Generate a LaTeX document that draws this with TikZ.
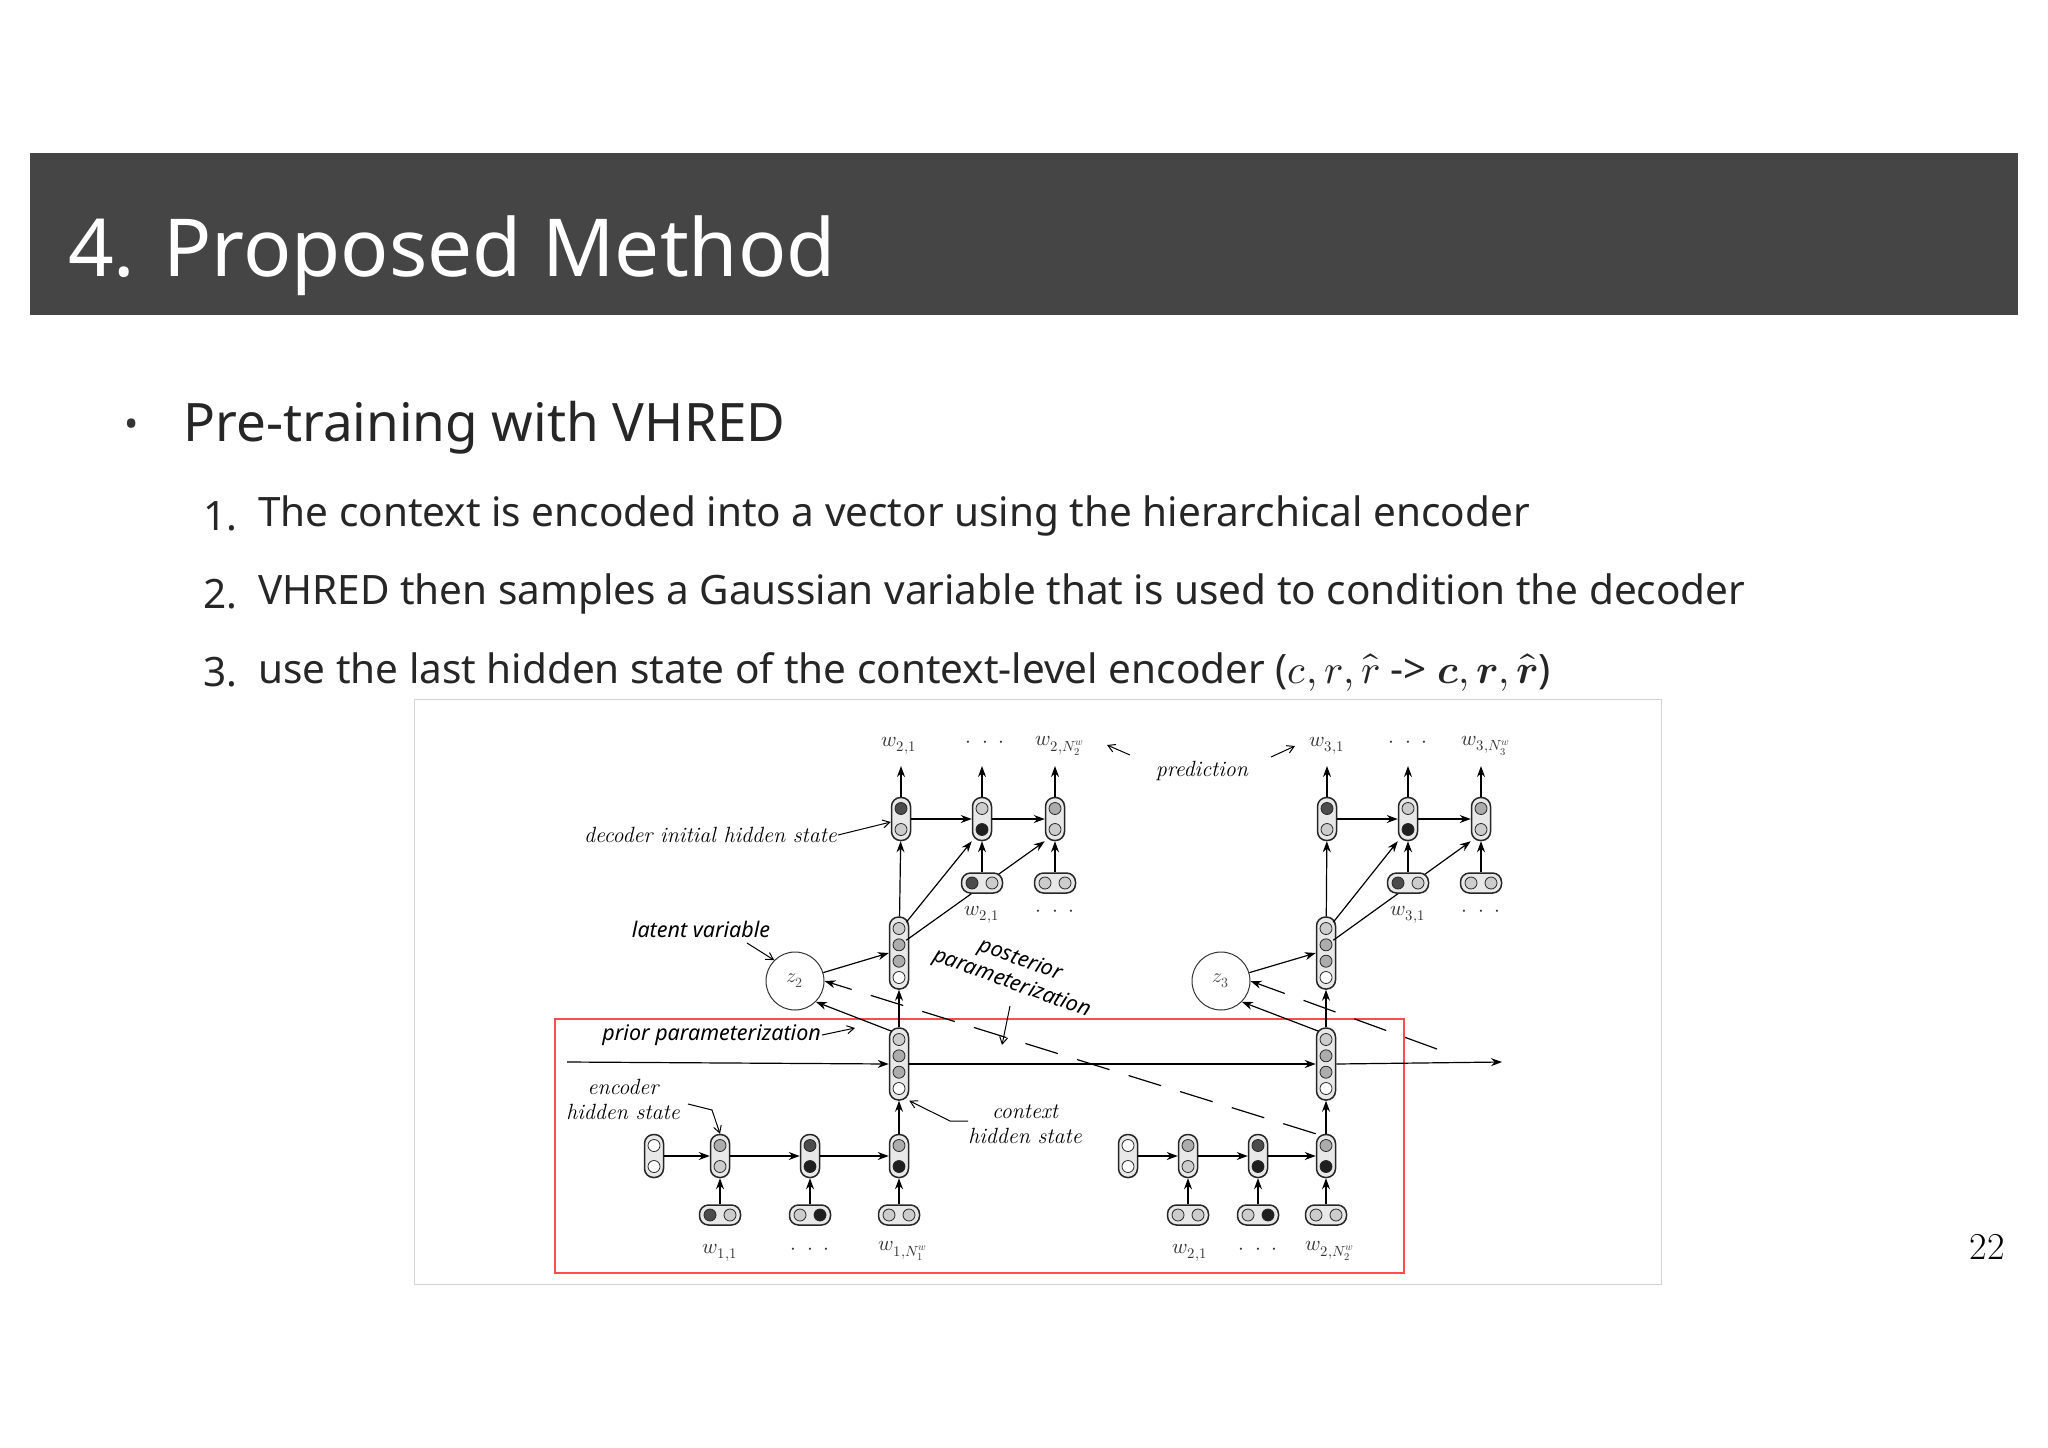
\documentclass[tikz,border=0pt]{standalone}
\usepackage{fontspec}
\usepackage{unicode-math}
\setmathfont{Latin Modern Math}
\newfontfamily\slidefont{Noto Sans}
\usetikzlibrary{arrows.meta,calc}
\tikzset{
 cellbox/.style={draw=black!85,line width=1.5pt,fill=gray!18,rounded corners=9pt,inner sep=0pt},
 vc2/.style={cellbox,minimum width=19pt,minimum height=43pt},
 hc2/.style={cellbox,minimum width=41pt,minimum height=20pt},
 vc4/.style={cellbox,minimum width=19pt,minimum height=72pt},
 dot/.style={draw=black!85,line width=0.8pt},
 arr/.style={line width=1.2pt,-{Stealth[length=11pt,width=8pt]}},
 thin/.style={line width=1pt,-{Straight Barb[length=7pt,width=8pt]}},
 lab/.style={font=\fontsize{22}{25}\selectfont\itshape,inner sep=1pt},
 slab/.style={font=\fontsize{21.5}{25}\selectfont\slidefont\itshape,inner sep=1pt},
 wl/.style={font=\fontsize{21}{23}\selectfont,text=black!80,inner sep=1pt},
}
\colorlet{cw}{white}\colorlet{cl}{gray!40}\colorlet{cmid}{gray!65}\colorlet{cd}{black!70}\colorlet{ck}{black!88}
\newcommand\vtwo[4]{\node[vc2] (#1) at (#2) {};
 \fill[fill=#3,dot] ($(#1.center)+(0,-10.5)$) circle (6pt);
 \fill[fill=#4,dot] ($(#1.center)+(0,10.5)$) circle (6pt);}
\newcommand\htwo[4]{\node[hc2] (#1) at (#2) {};
 \fill[fill=#3,dot] ($(#1.center)+(-10,0)$) circle (6pt);
 \fill[fill=#4,dot] ($(#1.center)+(10,0)$) circle (6pt);}
\newcommand\vfour[2]{\node[vc4] (#1) at (#2) {};
 \fill[fill=cl,dot] ($(#1.center)+(0,-24.5)$) circle (6pt);
 \fill[fill=cmid,dot] ($(#1.center)+(0,-8.2)$) circle (6pt);
 \fill[fill=cmid,dot] ($(#1.center)+(0,8.2)$) circle (6pt);
 \fill[fill=cw,dot] ($(#1.center)+(0,24.5)$) circle (6pt);}
\begin{document}
\begin{tikzpicture}[x=1pt,y=-1pt]
\useasboundingbox (0,0) rectangle (2048,1448);
\fill[white] (0,0) rectangle (2048,1448);
% title bar
\fill[black!73] (30,153) rectangle (2018,315);
\node[anchor=west,text=white,font=\fontsize{80}{90}\selectfont\slidefont,inner sep=0] (title) at (68,256) {4. Proposed Method};
% bullets
\node[font=\fontsize{38}{40}\selectfont\slidefont,text=black!80] (bul) at (132,428) {•};
\node[anchor=west,font=\fontsize{53}{58}\selectfont\slidefont,text=black!85,inner sep=0] (b1) at (183,428) {Pre-training with VHRED};
\tikzset{item/.style={anchor=west,font=\fontsize{40.5}{46}\selectfont\slidefont,text=black!85,inner sep=0}}
\node[item] (n1) at (203,516) {1.};
\node[item] (t1) at (258,516) {The context is encoded into a vector using the hierarchical encoder};
\node[item] (n2) at (203,594) {2.};
\node[item] (t2) at (258,594) {VHRED then samples a Gaussian variable that is used to condition the decoder};
\node[item] (n3) at (203,672) {3.};
\node[item] (t3) at (258,672) {use the last hidden state of the context-level encoder ($c,r,\hat{r}$ -> $\symbfit{c},\symbfit{r},\hat{\symbfit{r}}$)};
\node[font=\fontsize{38}{40}\selectfont] (pg) at (1987,1247) {22};
% diagram frame
\draw[gray!35,line width=1pt] (414,699) rectangle (1661,1284);
\draw[red!70!white,line width=2.2pt] (555,1019) rectangle (1404,1273);

% ---------- left
\vtwo{ei1}{654,1156}{cw}{cw}
\vtwo{e1}{720,1156}{cmid}{cl}
\vtwo{e2}{810,1156}{cd}{ck}
\vtwo{e3}{899,1156}{cmid}{ck}
\node[wl] (l11) at (720,1253) {$w_{1,1}$};
\node[wl] (l12) at (810,1251) {$\cdot\ \cdot\ \cdot$};
\node[wl] (l13) at (903,1251) {$w_{1,N_1^w}$};
\vfour{c1}{899,1064}
\vfour{zc1}{899,953}
\vtwo{d1}{901,819}{cd}{cl}
\vtwo{d2}{982,819}{cl}{ck}
\vtwo{d3}{1055,819}{cmid}{cl}
\node[wl] (t21) at (899,746) {$w_{2,1}$};
\node[wl] (t22) at (985,744) {$\cdot\ \cdot\ \cdot$};
\node[wl] (t23) at (1060,746) {$w_{2,N_2^w}$};
\node[draw=black!80,line width=1pt,circle,minimum size=58pt,inner sep=0,font=\fontsize{20}{22}\selectfont,text=black!70] (z2) at (795,981) {$z_2$};
% ---------- right
\vtwo{fi1}{1128,1156}{cw}{cw}
\vtwo{f1}{1188,1156}{cmid}{cl}
\vtwo{f2}{1258,1156}{cd}{ck}
\vtwo{f3}{1326,1156}{cmid}{ck}
\node[wl] (m11) at (1190,1253) {$w_{2,1}$};
\node[wl] (m12) at (1258,1251) {$\cdot\ \cdot\ \cdot$};
\node[wl] (m13) at (1330,1251) {$w_{2,N_2^w}$};
\vfour{c2}{1326,1064}
\vfour{zc2}{1326,953}
\vtwo{g1}{1327,819}{cd}{cl}
\vtwo{g2}{1408,819}{cl}{ck}
\vtwo{g3}{1481,819}{cmid}{cl}
\node[wl] (s31) at (1327,746) {$w_{3,1}$};
\node[wl] (s32) at (1408,744) {$\cdot\ \cdot\ \cdot$};
\node[wl] (s33) at (1486,746) {$w_{3,N_3^w}$};
\node[draw=black!80,line width=1pt,circle,minimum size=58pt,inner sep=0,font=\fontsize{20}{22}\selectfont,text=black!70] (z3) at (1221,981) {$z_3$};

% coordinates
\coordinate (hl) at (567,1062);
\coordinate (hr) at (1502,1062);
\foreach \n/\x in {a1/901,a2/982,a3/1055,b1/1327,b2/1408,b3/1481}{\coordinate (\n) at (\x,766);}
\coordinate (dstart) at (1437,1049);

% connectors left
\draw[arr] (ei1) -- (e1);
\draw[arr] (e1) -- (e2);
\draw[arr] (e2) -- (e3);
\draw[arr] (e3) -- (c1);
\draw[arr] (hl) -- (c1.west);
\draw[arr] (c1.east) -- (c2.west);
\draw[arr] (c2.east) -- (hr);
\draw[arr] (c1) -- (zc1);
\draw[arr] (zc1) -- (d1);
\draw[arr] (d1) -- (d2);
\draw[arr] (d2) -- (d3);
\draw[arr] (d1) -- (a1);
\draw[arr] (d2) -- (a2);
\draw[arr] (d3) -- (a3);
\draw[arr] ($(zc1.north east)+(-3,6)$) -- (d2.south west);
\draw[arr] ($(zc1.north east)+(-3,24)$) -- (d3.south west);
\draw[arr] (z2) -- (zc1.west);
\draw[arr] ($(c1.north west)+(3,4)$) -- (z2.south east);
\draw[arr,dash pattern=on 34pt off 20pt] (f3.north west) -- (z2.east);
% connectors right
\draw[arr] (fi1) -- (f1);
\draw[arr] (f1) -- (f2);
\draw[arr] (f2) -- (f3);
\draw[arr] (f3) -- (c2);
\draw[arr] (c2) -- (zc2);
\draw[arr] (zc2) -- (g1);
\draw[arr] (g1) -- (g2);
\draw[arr] (g2) -- (g3);
\draw[arr] (g1) -- (b1);
\draw[arr] (g2) -- (b2);
\draw[arr] (g3) -- (b3);
\draw[arr] ($(zc2.north east)+(-3,6)$) -- (g2.south west);
\draw[arr] ($(zc2.north east)+(-3,24)$) -- (g3.south west);
\draw[arr] (z3) -- (zc2.west);
\draw[arr] ($(c2.north west)+(3,4)$) -- (z3.south east);
\draw[arr,dash pattern=on 34pt off 20pt] (dstart) -- (z3.east);
% input cells (drawn over crossing lines)
\htwo{i1}{720,1215}{cd}{cl}
\htwo{i2}{810,1215}{cl}{ck}
\htwo{i3}{899,1215}{cl}{cl}
\htwo{j2}{982,883}{cd}{cl}
\htwo{j3}{1055,883}{cl}{cl}
\htwo{k2}{1408,883}{cd}{cl}
\htwo{k3}{1481,883}{cl}{cl}
\htwo{q1}{1188,1215}{cl}{cl}
\htwo{q2}{1258,1215}{cl}{ck}
\htwo{q3}{1326,1215}{cl}{cl}
\foreach \a/\b in {i1/e1,i2/e2,i3/e3,j2/d2,j3/d3,k2/g2,k3/g3,q1/f1,q2/f2,q3/f3}{\draw[arr] (\a) -- (\b);}
\node[wl] (u21) at (982,915) {$w_{2,1}$};
\node[wl] (u22) at (1055,913) {$\cdot\ \cdot\ \cdot$};
\node[wl] (v31) at (1408,915) {$w_{3,1}$};
\node[wl] (v32) at (1481,913) {$\cdot\ \cdot\ \cdot$};

% labels
\node[lab,anchor=east] (ldec) at (838,835) {decoder initial hidden state};
\draw[thin] (ldec.east) -- ($(d1.west)+(0,3)$);
\node[slab] (llat) at (701,929) {latent variable};
\draw[thin] (747,943) -- (z2.north west);
\node[slab,anchor=east] (lpri) at (822,1035) {prior parameterization};
\draw[thin] (lpri.east) -- (855,1028);
\node[lab,align=center] (lenc) at (623,1099) {encoder\\hidden state};
\draw[thin] (688,1104) -- (712,1110) -- (e1.north);
\node[lab,align=center] (lctx) at (1025,1124) {context\\hidden state};
\draw[thin] (968,1121) -- (950,1121) -- (c1.south east);
\node[lab] (lpred) at (1202,771) {prediction};
\draw[thin] (1130,755) -- (1107,745);
\draw[thin] (1271,757) -- (1295,746);
\node[slab,rotate=-20,align=center] (lpost) at (1016,972) {posterior\\parameterization};
\draw[thin] (1010,1006) -- (1002,1045);
\end{tikzpicture}
\end{document}
